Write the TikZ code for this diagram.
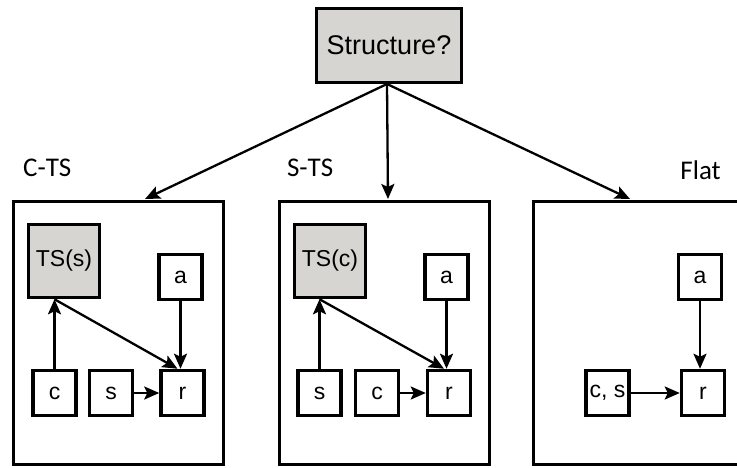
\documentclass[tikz,border=0pt]{standalone}
\usepackage{fontspec}
\setmainfont{Liberation Sans}
\newfontfamily\labelfont{Carlito}
\usetikzlibrary{arrows.meta,calc}
\definecolor{boxgray}{RGB}{214,213,209}
\tikzset{
  panel/.style={draw, line width=3.5pt, minimum width=210pt, minimum height=263pt, inner sep=0pt},
  var/.style={draw, line width=3.5pt, fill=white, inner sep=0pt, font=\fontsize{23}{25}\selectfont},
  small/.style={var, minimum width=43pt, minimum height=45pt},
  tsbox/.style={var, fill=boxgray, minimum width=71pt, minimum height=73pt},
  rootbox/.style={draw, line width=3.5pt, fill=boxgray, minimum width=145pt, minimum height=74pt,
    inner sep=0pt, font=\fontsize{27}{29}\selectfont},
  link/.style={line width=2.3pt, -{Stealth[length=15pt,width=13pt,inset=3pt]}},
  panellabel/.style={font=\labelfont\fontsize{27}{29}\selectfont, inner sep=0pt}
}
\begin{document}
\begin{tikzpicture}[x=1pt,y=-1pt]
\useasboundingbox (0,0) rectangle (737,468);
\clip (0,0) rectangle (737,468);

% question node
\node[rootbox] (root) at (389,45.5) {Structure?};

% three panels
\node[panel] (p1) at (118.5,333) {};
\node[panel] (p2) at (384.5,333) {};
\node[panel] (p3) at (638.5,333) {};

\node[panellabel, anchor=base west] (l1) at (23,177) {C-TS};
\node[panellabel, anchor=base west] (l2) at (287,177) {S-TS};
\node[panellabel, anchor=base east] (l3) at (721,180) {Flat};

\coordinate (in1) at (145,199);
\coordinate (in2) at (388,199);
\coordinate (in3) at (630,199);
\coordinate (out) at (387,84);
\draw[link] (out) -- (in1);
\draw[link] (out) -- (in2);
\draw[link] (out) -- (in3);

% C-TS panel
\node[tsbox] (ts1) at (64,261) {TS(s)};
\node[small] (a1) at (180.5,277) {a};
\node[small] (c1) at (54.5,393) {c};
\node[small] (s1) at (111,393) {s};
\node[small] (r1) at (182.5,393) {r};
\coordinate (t1) at (c1.north |- ts1.south);
\coordinate (rin1) at ($(r1.north)+(-5,0)$);
\coordinate (ain1) at (a1.south |- r1.north);
\draw[link] (c1) -- (t1);
\draw[link] (t1) -- (rin1);
\draw[link] (a1) -- (ain1);
\draw[link] (s1) -- (r1);

% S-TS panel
\node[tsbox] (ts2) at (330,261) {TS(c)};
\node[small] (a2) at (446.5,277) {a};
\node[small] (s2) at (319.5,393) {s};
\node[small] (c2) at (377,393) {c};
\node[small] (r2) at (449,393) {r};
\coordinate (t2) at (s2.north |- ts2.south);
\coordinate (rin2) at ($(r2.north)+(-5,0)$);
\coordinate (ain2) at (a2.south |- r2.north);
\draw[link] (s2) -- (t2);
\draw[link] (t2) -- (rin2);
\draw[link] (a2) -- (ain2);
\draw[link] (c2) -- (r2);

% Flat panel
\node[small] (a3) at (700,277) {a};
\node[small] (cs3) at (607.5,393) {c, s};
\node[small] (r3) at (703,393) {r};
\coordinate (ain3) at (a3.south |- r3.north);
\draw[link] (a3) -- (ain3);
\draw[link] (cs3) -- (r3);
\end{tikzpicture}
\end{document}
